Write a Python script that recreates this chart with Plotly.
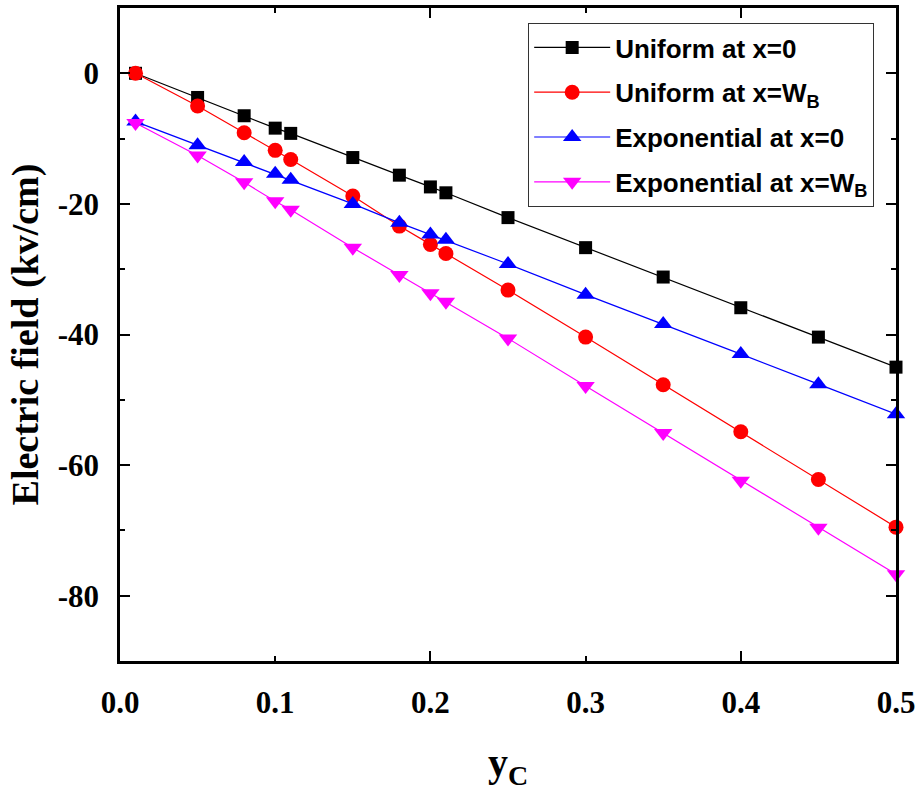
import plotly.graph_objects as go

# Composition y_C along the x axis
y_c = [0.01, 0.05, 0.08, 0.10, 0.11, 0.15, 0.18, 0.20, 0.21, 0.25, 0.30, 0.35, 0.40, 0.45, 0.50]

# Electric field (kV/cm) for each doping profile / position
uniform_x0 = [0.0, -3.7, -6.5, -8.4, -9.2, -12.9, -15.6, -17.4, -18.3, -22.1, -26.7, -31.2, -35.9, -40.4, -45.0]
uniform_xwb = [0.0, -5.0, -9.1, -11.8, -13.2, -18.8, -23.4, -26.2, -27.6, -33.2, -40.4, -47.7, -54.9, -62.2, -69.5]
expo_x0 = [-7.4, -11.0, -13.6, -15.4, -16.3, -20.0, -22.9, -24.7, -25.5, -29.2, -33.9, -38.4, -43.0, -47.6, -52.2]
expo_xwb = [-7.6, -12.6, -16.7, -19.6, -20.9, -26.7, -30.9, -33.7, -35.0, -40.6, -47.9, -55.1, -62.4, -69.6, -76.7]

series_names = [
    "Uniform at x=0",
    "Uniform at x=W<sub>B</sub>",
    "Exponential at x=0",
    "Exponential at x=W<sub>B</sub>",
]
series_values = [uniform_x0, uniform_xwb, expo_x0, expo_xwb]
series_colors = ["#000000", "#ff0000", "#0000ff", "#ff00ff"]
series_symbols = ["square", "circle", "triangle-up", "triangle-down"]
series_sizes = [13, 15, 16, 16]

x_ticks = [0.0, 0.1, 0.2, 0.3, 0.4, 0.5]
x_tick_text = ["0.0", "0.1", "0.2", "0.3", "0.4", "0.5"]
y_ticks = [0, -20, -40, -60, -80]
y_tick_text = ["0", "-20", "-40", "-60", "-80"]

fig = go.Figure()
for i, (name, vals, col, sym, sz) in enumerate(zip(series_names, series_values, series_colors,
                                                   series_symbols, series_sizes)):
    fig.add_trace(go.Scatter(
        x=y_c, y=vals, name=name, mode="lines+markers",
        legendgroup=f"g{i}",
        line=dict(color=col, width=1.2),
        marker=dict(symbol=sym, size=sz, color=col, line=dict(width=0)),
        cliponaxis=False,
    ))

serif = dict(family="Liberation Serif", color="black", weight="bold")

fig.update_layout(
    width=922, height=794,
    margin=dict(l=120, r=26, t=5, b=133),
    plot_bgcolor="white", paper_bgcolor="white",
    showlegend=True,
    legend=dict(
        x=0.526, y=0.977, xanchor="left", yanchor="top",
        bordercolor="#333333", borderwidth=1, bgcolor="white",
        font=dict(family="Liberation Sans", size=26, color="black", weight="bold"),
        tracegroupgap=8, itemwidth=76,
    ),
    xaxis=dict(
        range=[0, 0.5], tickvals=x_ticks, ticktext=x_tick_text,
        ticks="inside", ticklen=5, tickwidth=2, tickcolor="black",
        showline=True, linewidth=2.5, linecolor="black", mirror="ticks",
        showgrid=False, zeroline=False,
        tickfont=dict(size=31, **serif), ticklabelstandoff=12,
        title=dict(text="y<sub>C</sub>", font=dict(size=40, **serif), standoff=30),
    ),
    xaxis2=dict(
        range=[0, 0.5], overlaying="x", anchor="y", side="bottom",
        dtick=0.2, tick0=0, ticks="inside", ticklen=10, tickwidth=2, tickcolor="black",
        showticklabels=False, showline=False, mirror="ticks",
        showgrid=False, zeroline=False,
    ),
    yaxis=dict(
        range=[-90, 10], tickvals=y_ticks, ticktext=y_tick_text,
        ticks="inside", ticklen=10, tickwidth=2, tickcolor="black",
        minor=dict(dtick=10, tick0=0, ticks="inside", ticklen=5, tickwidth=2, tickcolor="black"),
        showline=True, linewidth=2.5, linecolor="black", mirror="ticks",
        showgrid=False, zeroline=False,
        tickfont=dict(size=31, **serif), ticklabelstandoff=12,
        title=dict(text="Electric field (kv/cm)", font=dict(size=38, **serif), standoff=8),
    ),
)

# Invisible trace to attach the secondary x axis that carries the long ticks
fig.add_trace(go.Scatter(x=[None], y=[None], xaxis="x2", showlegend=False, hoverinfo="skip"))

fig.write_html("out.html")
